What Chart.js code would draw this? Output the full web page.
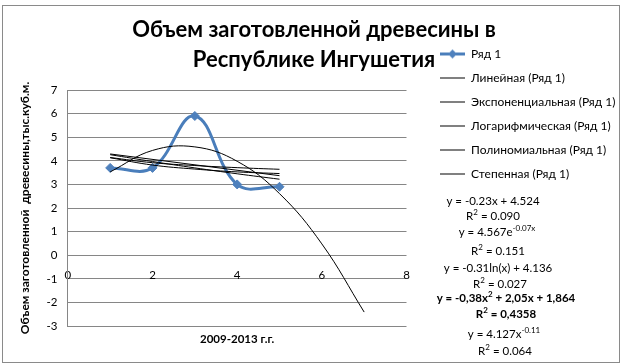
<!DOCTYPE html>
<html><head><meta charset="utf-8">
<script src="https://cdn.jsdelivr.net/npm/chart.js@4/dist/chart.umd.min.js"></script>
<style>html,body{margin:0;padding:0;background:#fff}#wrap{width:624px;height:364px;position:relative}</style>
</head><body><div id="wrap"><canvas id="c" width="624" height="364"></canvas></div>
<script>
// ---- data ----
const yearsX = [1, 2, 3, 4, 5];                 // 2009..2013 as x = 1..5
const series1 = [3.7, 3.7, 5.9, 3.0, 2.9];      // Ряд 1
const linearX = [1, 5];
const linearY = [4.29, 3.37];
const expY = [4.26, 3.97, 3.70, 3.45, 3.22];
const logY = [4.14, 3.92, 3.80, 3.71, 3.64];
const powY = [4.13, 3.82, 3.65, 3.53, 3.46];
const polyX = [1, 2, 3, 4, 5, 6, 7];
const polyY = [3.53, 4.44, 4.59, 3.98, 2.61, 0.48, -2.41];
const xTickValues = [0, 2, 4, 6, 8];
const yTickValues = [-3, -2, -1, 0, 1, 2, 3, 4, 5, 6, 7];
const titleLines = ['Объем заготовленной древесины в', 'Республике Ингушетия'];
const xTitle = '2009-2013 г.г.';
const yTitle = 'Объем заготовленной  древесины,тыс.куб.м.';
const legendNames = ['Ряд 1', 'Линейная (Ряд 1)', 'Экспоненциальная (Ряд 1)', 'Логарифмическая (Ряд 1)', 'Полиномиальная (Ряд 1)', 'Степенная (Ряд 1)'];
const equationLines = [
  [['y = -0.23x + 4.524']],
  [['R'], ['2', 'sup'], [' = 0.090']],
  [['y = 4.567e'], ['-0.07x', 'sup']],
  [['R'], ['2', 'sup'], [' = 0.151']],
  [['y = -0.31ln(x) + 4.136']],
  [['R'], ['2', 'sup'], [' = 0.027']],
  [['y = -0,38x'], ['2', 'sup'], [' + 2,05x + 1,864']],
  [['R'], ['2', 'sup'], [' = 0,4358']],
  [['y = 4.127x'], ['-0.11', 'sup']],
  [['R'], ['2', 'sup'], [' = 0.064']]
];
const equationBold = [false, false, false, false, false, false, true, true, false, false];

// ---- build ----
const FONT = 'Lato, "Liberation Sans", sans-serif';
const BLUE = '#4A7EBB';
const GRID = '#868686';
const pts = (xs, ys) => xs.map((x, i) => ({x: x, y: ys[i]}));

function makeSwatch(kind) {
  const cv = document.createElement('canvas');
  cv.width = 25; cv.height = 11;
  const g = cv.getContext('2d');
  if (kind === 'series') {
    g.strokeStyle = BLUE; g.lineWidth = 3;
    g.beginPath(); g.moveTo(0, 5.5); g.lineTo(25, 5.5); g.stroke();
    g.fillStyle = '#4F81BD';
    g.beginPath(); g.moveTo(12.5, 1); g.lineTo(17, 5.5); g.lineTo(12.5, 10); g.lineTo(8, 5.5); g.closePath(); g.fill();
  } else {
    g.strokeStyle = '#000'; g.lineWidth = 1;
    g.beginPath(); g.moveTo(0, 5.5); g.lineTo(25, 5.5); g.stroke();
  }
  return cv;
}
const swSeries = makeSwatch('series');
const swTrend = makeSwatch('trend');

const trendStyle = {type: 'line', borderColor: '#000', borderWidth: 1, pointRadius: 0, fill: false, order: 0};

const borderPlugin = {
  id: 'outerBorder',
  beforeDraw(chart) {
    const c = chart.ctx;
    c.save();
    c.fillStyle = '#fff'; c.fillRect(0, 0, chart.width, chart.height);
    c.strokeStyle = '#8a8a8a'; c.lineWidth = 1;
    c.strokeRect(2.5, 5.5, 617, 357);
    c.restore();
  }
};

const eqPos = [[493, 201], [493, 216], [497, 232], [498, 251], [498, 268], [500, 284], [506, 298], [506, 314], [504, 334], [505, 351]];
const equationPlugin = {
  id: 'equations',
  afterDraw(chart) {
    const c = chart.ctx;
    c.save();
    c.fillStyle = '#000';
    c.textBaseline = 'middle';
    equationLines.forEach((parts, i) => {
      const w = equationBold[i] ? 'bold ' : '';
      const mainF = w + '11.5px ' + FONT;
      const supF = w + '8px ' + FONT;
      let total = 0;
      parts.forEach(p => { c.font = p[1] ? supF : mainF; total += c.measureText(p[0]).width; });
      let x = eqPos[i][0] - total / 2;
      const y = eqPos[i][1];
      parts.forEach(p => {
        c.font = p[1] ? supF : mainF;
        c.fillText(p[0], x, p[1] ? y - 4 : y);
        x += c.measureText(p[0]).width;
      });
    });
    c.restore();
  }
};

new Chart(document.getElementById('c'), {
  type: 'scatter',
  data: {
    datasets: [
      {type: 'line', label: legendNames[0], data: pts(yearsX, series1), borderColor: BLUE, borderWidth: 3, tension: 0.4,
       pointStyle: 'rectRot', pointRadius: 4.5, pointBackgroundColor: '#4F81BD', pointBorderColor: '#4F81BD', pointBorderWidth: 1, fill: false, order: 1},
      Object.assign({label: legendNames[1], data: pts(linearX, linearY), tension: 0}, trendStyle),
      Object.assign({label: legendNames[2], data: pts(yearsX, expY), tension: 0.4}, trendStyle),
      Object.assign({label: legendNames[3], data: pts(yearsX, logY), tension: 0.4}, trendStyle),
      Object.assign({label: legendNames[4], data: pts(polyX, polyY), tension: 0.4}, trendStyle),
      Object.assign({label: legendNames[5], data: pts(yearsX, powY), tension: 0.4}, trendStyle)
    ]
  },
  options: {
    responsive: false,
    animation: false,
    layout: {padding: {left: 4, right: 0, top: 0, bottom: 0}},
    plugins: {
      tooltip: {enabled: false},
      title: {
        display: true, text: titleLines, color: '#000',
        font: {family: FONT, size: 22, weight: 'bold', lineHeight: 1.364},
        padding: {top: 15, bottom: 15}
      },
      legend: {
        display: true, position: 'right', align: 'start', maxWidth: 196,
        title: {display: true, text: ' ', font: {size: 10, lineHeight: 1}, padding: {top: 26, bottom: 0}},
        labels: {
          usePointStyle: true, pointStyleWidth: 25, padding: 12, color: '#000',
          font: {family: FONT, size: 12},
          generateLabels() {
            return legendNames.map((t, i) => ({
              text: t, fillStyle: i === 0 ? BLUE : '#000', strokeStyle: i === 0 ? BLUE : '#000', lineWidth: 1,
              pointStyle: i === 0 ? swSeries : swTrend, hidden: false, datasetIndex: i, fontColor: '#000'
            }));
          }
        }
      }
    },
    scales: {
      x: {
        type: 'linear', position: 'bottom', min: 0, max: 8,
        ticks: {display: false},
        grid: {display: false, drawTicks: false},
        border: {display: false},
        title: {display: true, text: xTitle, color: '#000', font: {family: FONT, size: 11.5, weight: 'bold'}, padding: {top: 6.7, bottom: 17.5}}
      },
      x2: {
        type: 'linear', position: {y: 0}, min: 0, max: 8,
        afterBuildTicks(s) { s.ticks = xTickValues.map(v => ({value: v})); },
        ticks: {color: '#000', padding: 13, font: {family: FONT, size: 11.5}},
        grid: {display: false, drawTicks: false},
        border: {display: false}
      },
      y: {
        type: 'linear', position: 'left', min: -3, max: 7,
        afterBuildTicks(s) { s.ticks = yTickValues.map(v => ({value: v})); },
        ticks: {color: '#000', padding: 10.5, font: {family: FONT, size: 11.5}},
        grid: {color: GRID, lineWidth: 1, drawTicks: false},
        border: {display: true, color: GRID, width: 1},
        title: {display: true, text: yTitle, color: '#000', font: {family: FONT, size: 12, weight: 'bold'}, padding: {top: 14, bottom: 3.5}}
      },
      gap: {
        axis: 'y', type: 'linear', position: 'right', min: 0, max: 1, display: true,
        ticks: {display: false},
        grid: {display: false, drawTicks: false},
        border: {display: false},
        title: {display: true, text: ' ', font: {size: 1, lineHeight: 1}, padding: {top: 20.5, bottom: 0}}
      }
    }
  },
  plugins: [borderPlugin, equationPlugin]
});
</script>
</body></html>
